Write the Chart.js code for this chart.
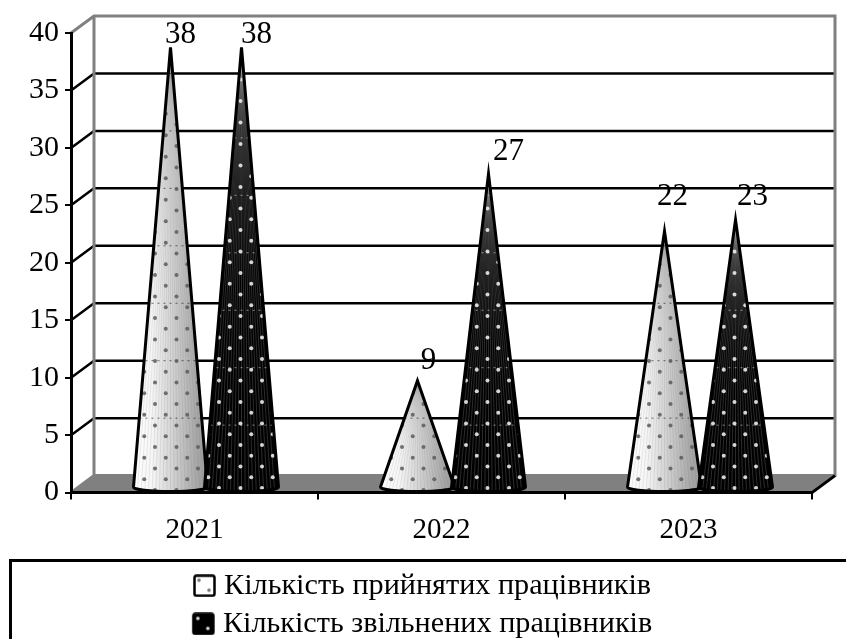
<!DOCTYPE html>
<html>
<head>
<meta charset="utf-8">
<style>
  html, body { margin: 0; padding: 0; background: #fff; overflow: hidden; }
  canvas { display: block; }
</style>
<script src="https://cdn.jsdelivr.net/npm/chart.js@4/dist/chart.umd.min.js"></script>
</head>
<body>
<canvas id="chart" width="846" height="639"></canvas>
<script>
const years = ['2021', '2022', '2023'];
const hired = [38, 9, 22];
const dismissed = [38, 27, 23];
const hiredLabel = 'Кількість прийнятих працівників';
const dismissedLabel = 'Кількість звільнених працівників';
const yMax = 40;
const yStep = 5;

const FONT = '"Liberation Serif", "Times New Roman", serif';
const DEPTH_X = 23, DEPTH_Y = 17; // 3D box depth
const GREY = '#808080';

// where each value label sits relative to its cone tip [dx, dy]
const labelNudge = [
    [[10, -13], [15, -13]],
    [[11, -20], [20, -22.5]],
    [[8, -34], [17, -23]]
];
// per series look of the cone
const coneLooks = [
    { dot: 'rgba(90,90,90,0.85)', stripe: 'rgba(110,110,110,0.14)', seam: 'rgba(0,0,0,0.55)', y0: 490, shift: 6 },
    { dot: 'rgba(235,235,235,0.9)', stripe: 'rgba(255,255,255,0.17)', seam: 'rgba(255,255,255,0.5)', y0: 488, shift: -1 }
];

// legend marker; the square sits right of the canvas centre so it lands next to the text
function swatch(fill, dot) {
    const c = document.createElement('canvas');
    c.width = 38; c.height = 23;
    const x = c.getContext('2d');
    x.translate(10, 0);
    x.fillStyle = fill;
    x.strokeStyle = '#000';
    x.lineWidth = 2.5;
    x.beginPath();
    x.roundRect(1.5, 1.5, 20, 20, 2);
    x.fill();
    x.stroke();
    x.fillStyle = dot;
    [[6, 6], [16, 16]].forEach(p => {
        x.beginPath();
        x.arc(p[0], p[1], 1.8, 0, Math.PI * 2);
        x.fill();
    });
    return c;
}

// walls, floor and gridlines of the 3D box, behind everything else
const boxPlugin = {
    id: 'box',
    beforeDraw(chart) {
        const { ctx, chartArea: a, scales: { y } } = chart;

        // left padding only centres the legend, tick labels may use that room
        y.left = 0;

        ctx.save();

        // legend frame runs off the page on the right and at the bottom
        ctx.strokeStyle = '#000';
        ctx.lineWidth = 3;
        ctx.strokeRect(10.5, 560.5, 900, 200);

        const bottom = y.getPixelForValue(0);
        const top = y.getPixelForValue(yMax);

        ctx.fillStyle = GREY;
        ctx.beginPath();
        ctx.moveTo(a.left, bottom);
        ctx.lineTo(a.left + DEPTH_X, bottom - DEPTH_Y);
        ctx.lineTo(a.right + DEPTH_X, bottom - DEPTH_Y);
        ctx.lineTo(a.right, bottom);
        ctx.closePath();
        ctx.fill();

        ctx.lineWidth = 2.5;
        ctx.strokeStyle = '#000';
        for (let v = yStep; v < yMax; v += yStep) {
            const py = y.getPixelForValue(v);
            ctx.beginPath();
            ctx.moveTo(a.left, py);
            ctx.lineTo(a.left + DEPTH_X, py - DEPTH_Y);
            ctx.lineTo(a.right + DEPTH_X, py - DEPTH_Y);
            ctx.stroke();
        }

        ctx.strokeStyle = GREY;
        ctx.lineWidth = 3;
        ctx.beginPath();
        ctx.moveTo(a.left, top);
        ctx.lineTo(a.left + DEPTH_X, top - DEPTH_Y);
        ctx.lineTo(a.right + DEPTH_X, top - DEPTH_Y);
        ctx.lineTo(a.right + DEPTH_X, bottom - DEPTH_Y);
        ctx.lineTo(a.left + DEPTH_X, bottom - DEPTH_Y);
        ctx.lineTo(a.left, bottom);
        ctx.moveTo(a.left + DEPTH_X, top - DEPTH_Y);
        ctx.lineTo(a.left + DEPTH_X, bottom - DEPTH_Y);
        ctx.stroke();

        ctx.strokeStyle = '#000';
        ctx.beginPath();
        ctx.moveTo(a.right, bottom);
        ctx.lineTo(a.right + DEPTH_X, bottom - DEPTH_Y);
        ctx.stroke();

        ctx.restore();
    }
};

function conePath(ctx, cx, tipY, r, baseY) {
    ctx.beginPath();
    ctx.moveTo(cx, tipY);
    ctx.lineTo(cx + r, baseY);
    ctx.ellipse(cx, baseY, r, 4.5, 0, 0, Math.PI);
    ctx.closePath();
}

function drawCone(chart, ds, bar, i) {
    const { ctx, scales: { y } } = chart;
    const look = coneLooks[ds];
    const cx = bar.x + DEPTH_X / 2;
    const tipY = bar.y - DEPTH_Y / 2;
    const baseY = bar.base - 4.5;
    const r = bar.width / 2 + 1.5;

    ctx.save();
    conePath(ctx, cx, tipY, r, baseY);
    ctx.save();
    ctx.clip();

    if (ds === 0) {
        const g = ctx.createLinearGradient(cx - r, 0, cx + r, 0);
        g.addColorStop(0, '#ffffff');
        g.addColorStop(0.25, '#f6f6f6');
        g.addColorStop(0.55, '#cfcfcf');
        g.addColorStop(0.85, '#a8a8a8');
        g.addColorStop(1, '#9a9a9a');
        ctx.fillStyle = g;
    } else {
        ctx.fillStyle = '#000';
    }
    ctx.fillRect(cx - r - 2, tipY - 2, 2 * r + 4, baseY - tipY + 12);

    // fine ribs running up to the tip
    ctx.strokeStyle = look.stripe;
    ctx.lineWidth = 1;
    const ribs = 20;
    for (let k = 1; k < ribs; k++) {
        ctx.beginPath();
        ctx.moveTo(cx, tipY);
        ctx.lineTo(cx - r + 2 * r * k / ribs, baseY + 6);
        ctx.stroke();
    }

    // the gridlines show faintly through the surface
    ctx.strokeStyle = look.seam;
    ctx.lineWidth = 1;
    ctx.setLineDash([2, 4]);
    for (let v = yStep; v < yMax; v += yStep) {
        const py = y.getPixelForValue(v) - DEPTH_Y + (ds === 0 ? 0 : 7);
        ctx.beginPath();
        ctx.moveTo(cx - r, py);
        ctx.lineTo(cx + r, py);
        ctx.stroke();
    }
    ctx.setLineDash([]);

    // staggered dot pattern
    ctx.fillStyle = look.dot;
    for (let row = 0, py = look.y0; py > tipY; row++, py -= 10.75) {
        const off = look.shift + (row % 2 ? -10.75 : 0);
        for (let col = -3; col <= 3; col++) {
            ctx.beginPath();
            ctx.arc(cx + off + col * 21.5, py, 2, 0, Math.PI * 2);
            ctx.fill();
        }
    }
    ctx.restore();

    conePath(ctx, cx, tipY, r, baseY);
    ctx.strokeStyle = '#000';
    ctx.lineWidth = 3;
    ctx.lineJoin = 'miter';
    ctx.stroke();
    ctx.restore();

    const nudge = labelNudge[i][ds];
    ctx.save();
    ctx.font = '31px ' + FONT;
    ctx.fillStyle = '#000';
    ctx.textAlign = 'center';
    ctx.textBaseline = 'middle';
    ctx.fillText(String(chart.data.datasets[ds].data[i]), cx + nudge[0], tipY + nudge[1]);
    ctx.restore();
}

const conePlugin = {
    id: 'cones',
    afterDatasetsDraw(chart) {
        chart.data.datasets.forEach((d, ds) => {
            chart.getDatasetMeta(ds).data.forEach((bar, i) => drawCone(chart, ds, bar, i));
        });
    }
};

const hiddenBar = 'rgba(0,0,0,0)';

new Chart(document.getElementById('chart'), {
    type: 'bar',
    data: {
        labels: years,
        datasets: [
            { label: hiredLabel, data: hired, backgroundColor: hiddenBar, categoryPercentage: 0.575, barPercentage: 1 },
            { label: dismissedLabel, data: dismissed, backgroundColor: hiddenBar, categoryPercentage: 0.575, barPercentage: 1 }
        ]
    },
    options: {
        responsive: false,
        animation: false,
        layout: { padding: { top: 33, right: 34, left: 34, bottom: -10 } },
        plugins: {
            tooltip: { enabled: false },
            legend: {
                position: 'bottom',
                labels: {
                    font: { family: FONT, size: 30.2 },
                    color: '#000',
                    usePointStyle: true,
                    pointStyleWidth: 14,
                    padding: 8,
                    generateLabels: () => [
                        { text: hiredLabel, pointStyle: swatch('#fff', '#777'), fillStyle: '#fff', strokeStyle: '#000', lineWidth: 0, datasetIndex: 0 },
                        { text: dismissedLabel, pointStyle: swatch('#000', '#ddd'), fillStyle: '#000', strokeStyle: '#000', lineWidth: 0, datasetIndex: 1 }
                    ]
                }
            }
        },
        scales: {
            x: {
                afterFit(s) { s.height = 70; },
                grid: { drawOnChartArea: false, color: '#000', lineWidth: 2, tickLength: 7 },
                border: { color: '#000', width: 3 },
                ticks: { color: '#000', font: { family: FONT, size: 29 }, padding: 13, maxRotation: 0 }
            },
            y: {
                min: 0,
                max: yMax,
                afterFit(s) { s.width = 37; },
                grid: { drawOnChartArea: false, color: '#000', lineWidth: 2, tickLength: 6 },
                border: { color: '#000', width: 3 },
                ticks: { stepSize: yStep, color: '#000', font: { family: FONT, size: 30 }, padding: 6 }
            }
        }
    },
    plugins: [boxPlugin, conePlugin]
});
</script>
</body>
</html>
